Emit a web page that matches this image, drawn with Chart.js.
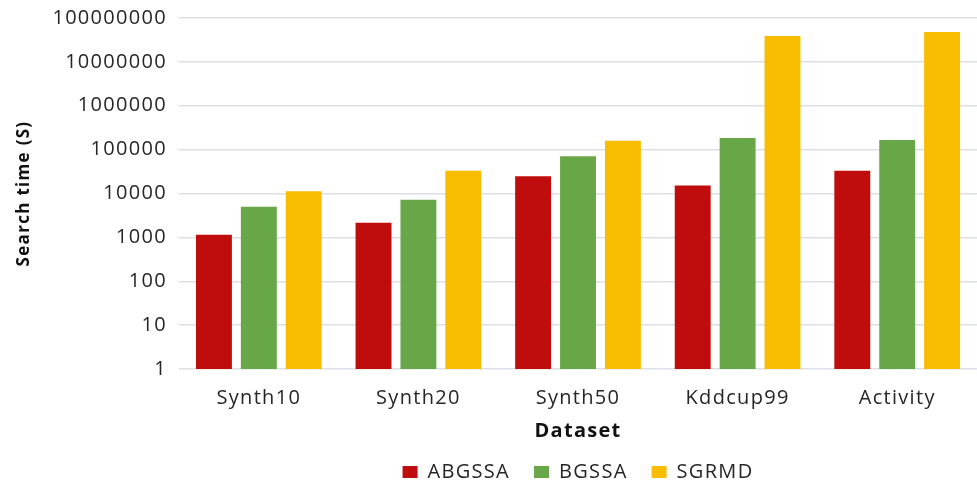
<!DOCTYPE html>
<html>
<head>
<meta charset="utf-8">
<script src="https://cdn.jsdelivr.net/npm/chart.js@4/dist/chart.umd.min.js"></script>
<style>
  html, body { margin: 0; padding: 0; background: #ffffff; }
  #wrap { width: 977px; height: 482px; }
</style>
</head>
<body>
<div id="wrap"><canvas id="c" width="977" height="482"></canvas></div>
<script>
// Datasets on the x axis
const datasets = ['Synth10', 'Synth20', 'Synth50', 'Kddcup99', 'Activity'];

// Search time in seconds for each method
const abgssa = [1150, 2150, 24800, 15200, 33000];
const bgssa  = [5000, 7200, 71000, 184000, 165000];
const sgrmd  = [11300, 33000, 160000, 39000000, 48000000];

// Decade ticks of the log axis
const yTicks = [1, 10, 100, 1000, 10000, 100000, 1000000, 10000000, 100000000];

const TEXT = '#262626';
const SPACING = '1.3px';

// Slightly wider letter spacing for all canvas text
const letterSpacing = {
  id: 'letterSpacing',
  beforeUpdate(chart) { chart.ctx.letterSpacing = SPACING; },
  beforeDraw(chart) { chart.ctx.letterSpacing = SPACING; }
};

Chart.defaults.font.family = "'Open Sans', sans-serif";
Chart.defaults.font.size = 20;
Chart.defaults.color = TEXT;

new Chart(document.getElementById('c'), {
  type: 'bar',
  data: {
    labels: datasets,
    datasets: [
      { label: 'ABGSSA', data: abgssa, backgroundColor: '#BF0D0D' },
      { label: 'BGSSA',  data: bgssa,  backgroundColor: '#68A748' },
      { label: 'SGRMD',  data: sgrmd,  backgroundColor: '#F8BC00' }
    ]
  },
  options: {
    responsive: false,
    animation: false,
    layout: { padding: { top: 0, right: 0, left: 14, bottom: -10 } },
    datasets: { bar: { categoryPercentage: 0.844, barPercentage: 0.8 } },
    scales: {
      x: {
        grid: { display: false, drawTicks: false },
        border: { display: false },
        ticks: { padding: 17, font: { size: 20 }, color: TEXT },
        title: {
          display: true,
          text: 'Dataset',
          font: { size: 20, weight: 'bold' },
          color: '#111111',
          padding: { top: -8, bottom: -5 }
        }
      },
      y: {
        type: 'logarithmic',
        min: 1,
        max: 100000000,
        afterBuildTicks(scale) { scale.ticks = yTicks.map(v => ({ value: v })); },
        afterFit(scale) { scale.paddingTop = 18; },
        grid: { color: '#DCE0E6', lineWidth: 1.5, drawTicks: false },
        border: { display: false },
        ticks: {
          padding: 12,
          font: { size: 20 },
          color: TEXT,
          callback: v => String(v)
        },
        title: {
          display: true,
          text: 'Search time (S)',
          font: { size: 17, weight: 'bold' },
          color: '#111111',
          padding: { top: 0, bottom: 6 }
        }
      }
    },
    plugins: {
      legend: {
        position: 'bottom',
        fullSize: false,
        labels: {
          boxWidth: 15,
          boxHeight: 12,
          padding: 24,
          font: { size: 20 },
          color: TEXT
        }
      },
      tooltip: { enabled: false }
    }
  },
  plugins: [letterSpacing]
});
</script>
</body>
</html>
